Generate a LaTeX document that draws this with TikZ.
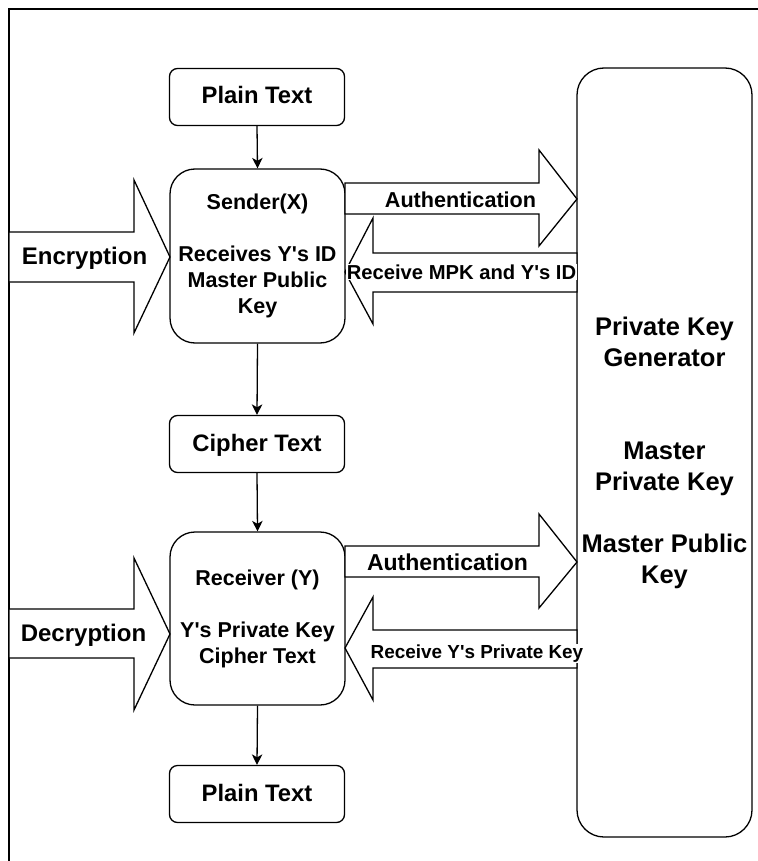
\documentclass[tikz,border=0pt]{standalone}
\usepackage{fontspec}
\setmainfont{Liberation Sans}
\usetikzlibrary{arrows.meta}
\newcommand{\apos}{\textquotesingle}
\begin{document}
\begin{tikzpicture}[x=1pt, y=-1pt, line width=1.3pt,
  smallbox/.style={draw, rounded corners=8pt, minimum width=175pt, minimum height=57pt,
    inner sep=0pt, font=\bfseries\fontsize{23.8}{28}\selectfont, text height=17pt, text depth=3pt},
  bigbox/.style={draw, rounded corners=25pt, minimum width=175pt, minimum height=174pt,
    inner sep=0pt, align=center, font=\bfseries\fontsize{21.5}{26}\selectfont},
  pkgbox/.style={draw, rounded corners=27pt, minimum width=175pt, minimum height=769pt,
    inner sep=0pt, align=center, font=\bfseries\fontsize{25.5}{31}\selectfont},
  blockarrow/.style={draw, fill=white, line join=miter},
  lbl/.style={anchor=base, inner sep=0.6pt, fill=white},
  flow/.style={-{Stealth[length=10.5pt, width=10.5pt, inset=3pt]}}]

% page area and outer frame
\useasboundingbox (0,0) rectangle (757,861);
\draw (9,870) -- (9,9) -- (770,9);

% key generator
\node[pkgbox] (pkg) at (664.5,452.5) {Private Key\\Generator\\[62pt]Master\\Private Key\\[31pt]Master Public\\Key};

% main chain
\node[smallbox] (ptop) at (257,97) {Plain Text};
\node[bigbox] (snd) at (257.5,256) {Sender(X)\\[26pt]Receives Y\apos s ID\\Master Public\\Key};
\node[smallbox] (ct) at (257,444) {Cipher Text};
\node[bigbox, minimum height=173pt] (rcv) at (257.5,618.5) {Receiver (Y)\\[26pt]Y\apos s Private Key\\Cipher Text};
\node[smallbox] (pbot) at (257,794) {Plain Text};

\draw[flow] (ptop.south) -- (snd.north);
\draw[flow] (snd.south) -- (ct.north);
\draw[flow] (ct.south) -- (rcv.north);
\draw[flow] (rcv.south) -- (pbot.north);

% block arrows
\draw[blockarrow] (9,232) -- (134,232) -- (134,180) -- (170,257) -- (134,333) -- (134,282) -- (9,282) -- cycle;
\draw[blockarrow] (9,609) -- (134,609) -- (134,558) -- (170,634) -- (134,710) -- (134,658) -- (9,658) -- cycle;
\draw[blockarrow] (345,183) -- (539,183) -- (539,150) -- (577,199) -- (539,246) -- (539,214) -- (345,214) -- cycle;
\draw[blockarrow] (577,253) -- (373,253) -- (373,218) -- (345,272) -- (373,324) -- (373,292) -- (577,292) -- cycle;
\draw[blockarrow] (345,546) -- (539,546) -- (539,514) -- (577,562) -- (539,608) -- (539,577) -- (345,577) -- cycle;
\draw[blockarrow] (577,630) -- (373,630) -- (373,597) -- (345,648) -- (373,700) -- (373,668) -- (577,668) -- cycle;

% arrow labels
\node[lbl, font=\bfseries\fontsize{24}{28}\selectfont] (enc) at (84.5,264.5) {Encryption};
\node[lbl, font=\bfseries\fontsize{24}{28}\selectfont] (dec) at (83.5,641.5) {Decryption};
\node[lbl, font=\bfseries\fontsize{21.6}{26}\selectfont] (auth1) at (460.5,207) {Authentication};
\node[lbl, font=\bfseries\fontsize{20.2}{24}\selectfont] (mpk) at (461.5,279) {Receive MPK and Y\apos s ID};
\node[lbl, font=\bfseries\fontsize{23}{27}\selectfont] (auth2) at (447.5,570.5) {Authentication};
\node[lbl, font=\bfseries\fontsize{18.9}{22}\selectfont] (ypk) at (477,658.5) {Receive Y\apos s Private Key};
\end{tikzpicture}
\end{document}
